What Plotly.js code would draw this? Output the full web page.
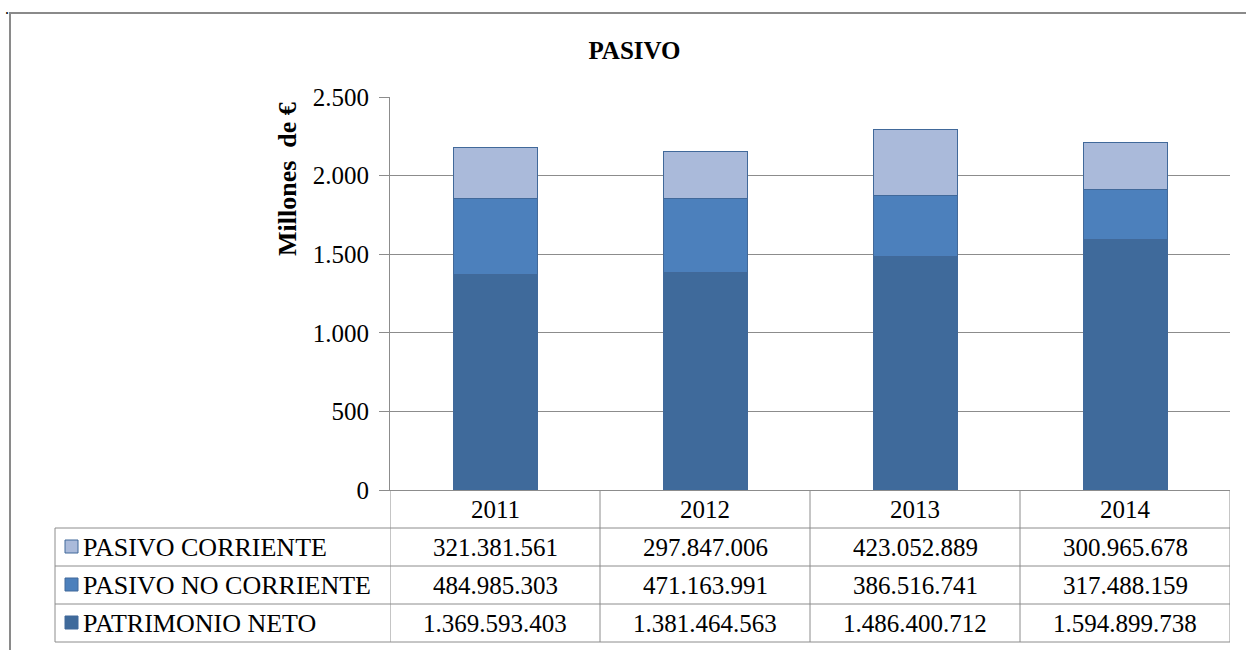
<!DOCTYPE html>
<html>
<head>
<meta charset="utf-8">
<script src="https://cdn.plot.ly/plotly-3.0.1.min.js"></script>
<style>html,body{margin:0;padding:0;background:#fff;}#chart{width:1246px;height:650px;}</style>
</head>
<body>
<div id="chart"></div>
<script>
// ---- data ----
const years = ['2011', '2012', '2013', '2014'];
const seriesNames = ['PASIVO CORRIENTE', 'PASIVO NO CORRIENTE', 'PATRIMONIO NETO'];
const pasivoCorriente = [321381561, 297847006, 423052889, 300965678];
const pasivoNoCorriente = [484985303, 471163991, 386516741, 317488159];
const patrimonioNeto = [1369593403, 1381464563, 1486400712, 1594899738];
const yTicks = [0, 500, 1000, 1500, 2000, 2500];

// ---- styles ----
const colors = {
  'PATRIMONIO NETO': '#3F6A9B',
  'PASIVO NO CORRIENTE': '#4C80BC',
  'PASIVO CORRIENTE': '#AABADA'
};
const FONT = 'Liberation Serif';
const W = 1246, H = 650;
const L = 390, R = 1230, T = 97, B = 490;
const px2x = p => (p - L) / (R - L);
const py2y = p => (B - p) / (B - T);

function fmt(v) {
  return String(v).replace(/\B(?=(\d{3})+(?!\d))/g, '.');
}
const toMill = arr => arr.map(v => v / 1e6);

const seriesData = {
  'PATRIMONIO NETO': patrimonioNeto,
  'PASIVO NO CORRIENTE': pasivoNoCorriente,
  'PASIVO CORRIENTE': pasivoCorriente
};

const traces = ['PATRIMONIO NETO', 'PASIVO NO CORRIENTE', 'PASIVO CORRIENTE'].map(name => ({
  type: 'bar',
  name: name,
  x: years,
  y: toMill(seriesData[name]),
  width: 0.4,
  marker: { color: colors[name], line: { color: '#41699A', width: 1 } },
  hoverinfo: 'skip'
}));

// ---- table geometry ----
const rowEdges = [490, 528, 566, 604, 642];
const tableLeft = 55;
const shapes = [];
const annotations = [];
const lineStyle = { color: '#8C8C8C', width: 1 };

// outer frame
shapes.push({ type: 'rect', xref: 'paper', yref: 'paper',
  x0: px2x(10), x1: px2x(1256), y0: py2y(13), y1: py2y(670),
  line: { color: '#8A8A8A', width: 2 }, fillcolor: 'rgba(0,0,0,0)', layer: 'below' });

// vertical lines at category boundaries (data coords)
for (let i = 0; i <= years.length; i++) {
  shapes.push({ type: 'line', xref: 'x', yref: 'paper',
    x0: i - 0.5, x1: i - 0.5, y0: py2y(rowEdges[0]), y1: py2y(rowEdges[4]), line: lineStyle });
}
// left column vertical line
shapes.push({ type: 'line', xref: 'paper', yref: 'paper',
  x0: px2x(tableLeft), x1: px2x(tableLeft), y0: py2y(rowEdges[1]), y1: py2y(rowEdges[4]), line: lineStyle });
// horizontal lines
for (let r = 1; r < rowEdges.length; r++) {
  shapes.push({ type: 'line', xref: 'paper', yref: 'paper',
    x0: px2x(tableLeft), x1: 1, y0: py2y(rowEdges[r]), y1: py2y(rowEdges[r]), line: lineStyle });
}

// year header (category index positions on the x axis)
years.forEach((yr, i) => {
  annotations.push({ xref: 'x', yref: 'paper', x: i, y: py2y((rowEdges[0] + rowEdges[1]) / 2),
    text: yr, showarrow: false, xanchor: 'center', yanchor: 'middle',
    font: { family: FONT, size: 25 } });
});

// rows
const rowSeries = [
  ['PASIVO CORRIENTE', pasivoCorriente],
  ['PASIVO NO CORRIENTE', pasivoNoCorriente],
  ['PATRIMONIO NETO', patrimonioNeto]
];
rowSeries.forEach(([name, vals], r) => {
  const cy = (rowEdges[r + 1] + rowEdges[r + 2]) / 2;
  // legend key
  shapes.push({ type: 'rect', xref: 'paper', yref: 'paper',
    x0: px2x(65), x1: px2x(78), y0: py2y(cy + 6), y1: py2y(cy - 7),
    fillcolor: colors[name], line: { color: '#41699A', width: 1 } });
  annotations.push({ xref: 'paper', yref: 'paper', x: px2x(81), y: py2y(cy),
    text: name, showarrow: false, xanchor: 'left', yanchor: 'middle',
    font: { family: FONT, size: 26 } });
  vals.forEach((v, i) => {
    annotations.push({ xref: 'x', yref: 'paper', x: i, y: py2y(cy),
      text: fmt(v), showarrow: false, xanchor: 'center', yanchor: 'middle',
      font: { family: FONT, size: 25 } });
  });
});

// y axis title
annotations.push({ xref: 'paper', yref: 'paper', x: px2x(287), y: py2y(179),
  text: '<b>Millones  de €</b>', textangle: -90, showarrow: false,
  xanchor: 'center', yanchor: 'middle', font: { family: FONT, size: 26 } });

// stray dot top-left
annotations.push({ xref: 'paper', yref: 'paper', x: px2x(7), y: py2y(8),
  text: '.', showarrow: false, xanchor: 'center', yanchor: 'middle',
  font: { family: FONT, size: 16 } });

const layout = {
  width: W, height: H,
  margin: { l: L, r: W - R, t: T, b: H - B, pad: 0 },
  paper_bgcolor: '#fff', plot_bgcolor: '#fff',
  font: { family: FONT, color: '#000' },
  separators: ',.',
  barmode: 'stack',
  showlegend: false,
  title: { text: '<b>PASIVO</b>', x: 634.5 / W, xref: 'container', xanchor: 'center',
    y: 1 - 50 / H, yref: 'container', yanchor: 'middle',
    font: { family: FONT, size: 25 } },
  xaxis: { type: 'category', range: [-0.5, 3.5], showticklabels: false, ticks: '',
    showgrid: false, zeroline: false, showline: true, linecolor: '#8C8C8C', linewidth: 1,
    fixedrange: true },
  yaxis: { range: [0, 2500], tickvals: yTicks, tickformat: ',d', ticks: 'outside',
    ticklen: 10, tickcolor: '#8C8C8C', tickwidth: 1, ticklabelstandoff: 5,
    showline: true, linecolor: '#8C8C8C', linewidth: 1,
    showgrid: true, gridcolor: '#8C8C8C', gridwidth: 1, zeroline: false,
    tickfont: { family: FONT, size: 25 }, fixedrange: true },
  shapes: shapes,
  annotations: annotations
};

Plotly.newPlot('chart', traces, layout, { displayModeBar: false });
</script>
</body>
</html>
